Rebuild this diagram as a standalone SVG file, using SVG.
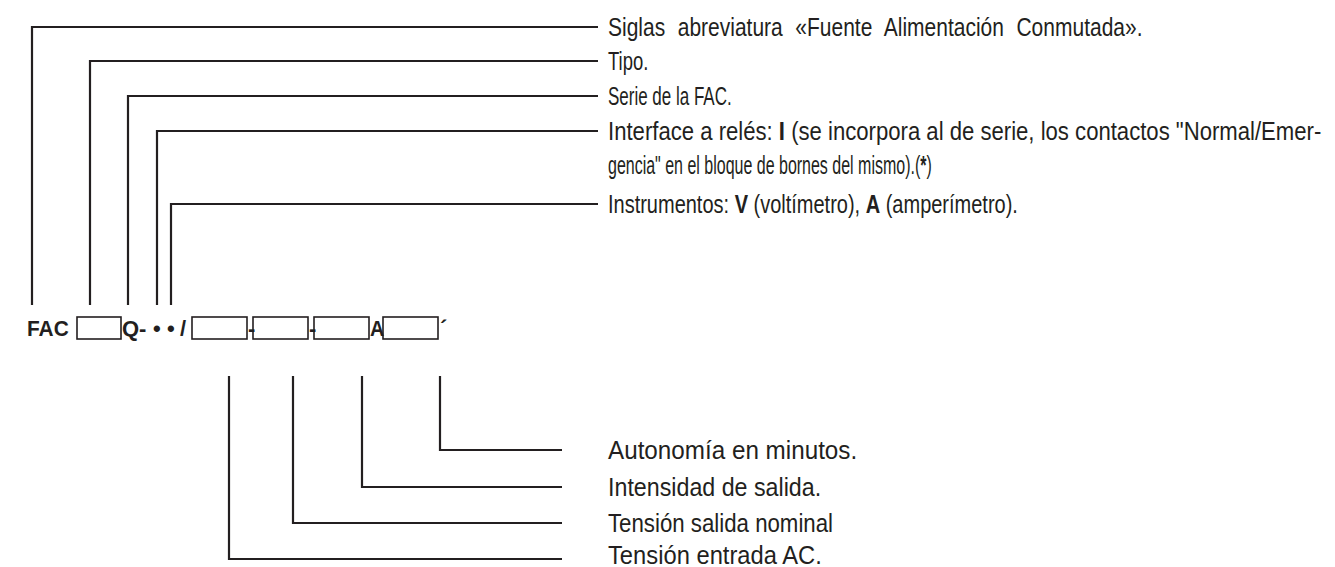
<svg xmlns="http://www.w3.org/2000/svg" width="1335" height="567" viewBox="0 0 1335 567">
<style>
.ln{fill:none;stroke:#231f20;stroke-width:2.2}
.bx{fill:none;stroke:#231f20;stroke-width:1.6}
.t{font-family:"Liberation Sans",Arial,sans-serif;font-size:25px;fill:#231f20}
.u{font-family:"Liberation Sans",Arial,sans-serif;font-size:25px;fill:#231f20}
.c{font-family:"Liberation Sans",Arial,sans-serif;font-size:22px;font-weight:bold;fill:#231f20}
.b{font-weight:bold}
</style>
<rect width="1335" height="567" fill="#ffffff"/>
<g id="connectors">
<polyline class="ln" points="32,305 32,27 598,27"/>
<polyline class="ln" points="90,305 90,61 598,61"/>
<polyline class="ln" points="128,305 128,96 598,96"/>
<polyline class="ln" points="157,305 157,131 598,131"/>
<polyline class="ln" points="171,305 171,204 598,204"/>
<polyline class="ln" points="229,376 229,559 562,559"/>
<polyline class="ln" points="293,376 293,523 562,523"/>
<polyline class="ln" points="362,376 362,487 562,487"/>
<polyline class="ln" points="440,376 440,450 562,450"/>
</g>
<g id="code">
<text class="c" transform="translate(27,336) scale(0.95,1)">FAC</text>
<rect class="bx" x="77" y="317" width="44" height="22"/>
<text class="c" x="122" y="336">Q-</text>
<text class="c" x="153" y="336">•</text>
<text class="c" x="167" y="336">•</text>
<text class="c" x="180" y="336">/</text>
<rect class="bx" x="192" y="317" width="55" height="22"/>
<text class="c" x="248" y="336">-</text>
<rect class="bx" x="253" y="317" width="55" height="22"/>
<text class="c" x="309" y="336">-</text>
<rect class="bx" x="314" y="317" width="55" height="22"/>
<text class="c" transform="translate(370,336) scale(0.9,1)">A</text>
<rect class="bx" x="383" y="317" width="55" height="22"/>
<text class="c" x="440" y="336">´</text>
</g>
<g id="label-siglas"><text class="t" transform="translate(608,36) scale(0.84,1)" word-spacing="8">Siglas abreviatura «Fuente Alimentación Conmutada».</text></g>
<g id="label-tipo"><text class="t" transform="translate(608,70) scale(0.74,1)">Tipo.</text></g>
<g id="label-serie"><text class="t" transform="translate(608,105) scale(0.68,1)">Serie de la FAC.</text></g>
<g id="label-interface">
<text class="t" transform="translate(608,140) scale(0.885,1)">Interface a relés: <tspan class="b">I</tspan> (se incorpora al de serie, los contactos "Normal/Emer-</text>
<text class="t" transform="translate(608,174) scale(0.64,1)">gencia" en el bloque de bornes del mismo).(<tspan class="b">*</tspan>)</text>
</g>
<g id="label-instrumentos"><text class="t" transform="translate(608,213) scale(0.8,1)">Instrumentos: <tspan class="b">V</tspan> (voltímetro), <tspan class="b">A</tspan> (amperímetro).</text></g>
<g id="label-autonomia"><text class="u" transform="translate(608,459) scale(0.97,1)">Autonomía en minutos.</text></g>
<g id="label-intensidad"><text class="u" transform="translate(608,496) scale(0.93,1)">Intensidad de salida.</text></g>
<g id="label-tension-salida"><text class="u" transform="translate(608,532) scale(0.89,1)">Tensión salida nominal</text></g>
<g id="label-tension-entrada"><text class="u" transform="translate(608,564) scale(0.95,1)">Tensión entrada AC.</text></g>
</svg>
